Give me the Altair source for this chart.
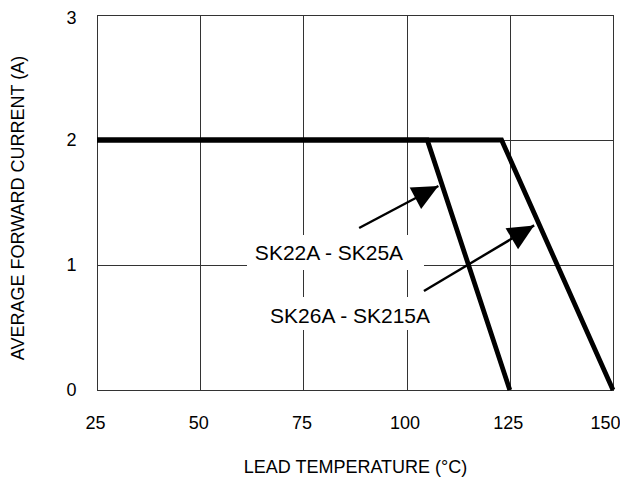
import math
import altair as alt
import pandas as pd

# ---- data ----
series_names = ["SK22A - SK25A", "SK26A - SK215A"]
s1_temp = [25, 105, 125]
s1_curr = [2, 2, 0]
s2_temp = [25, 123, 150]
s2_curr = [2, 2, 0]

label_text = ["SK22A - SK25A", "SK26A - SK215A"]
label_temp = [81.2, 86.3]
label_curr = [1.10, 0.596]

arrow_start_temp = [88.5, 104.2]
arrow_start_curr = [1.296, 0.792]
arrow_tip_temp = [107.7, 130.9]
arrow_tip_curr = [1.632, 1.317]

x_ticks = [25, 50, 75, 100, 125, 150]
y_ticks = [0, 1, 2, 3]

# ---- layout ----
W, H = 516, 375
FONT = "Liberation Sans"
xs = alt.Scale(domain=[25, 150], nice=False, zero=False)
ys = alt.Scale(domain=[0, 3], nice=False)

x_axis = alt.Axis(values=x_ticks, format="d", grid=True, gridColor="#333", gridWidth=1,
                  domain=False, ticks=False, tickSize=0, labelFlush=False,
                  labelOffset={"condition": {"test": "datum.value == 150", "value": -8}, "value": -2},
                  labelFont=FONT, labelFontSize=18, labelColor="black",
                  labelBaseline="alphabetic", labelPadding=38,
                  title="LEAD TEMPERATURE (°C)", titleFont=FONT, titleFontSize=18,
                  titleFontWeight="normal", titleColor="black",
                  titleX=258, titleY=82, titleBaseline="alphabetic", titleAlign="center")
y_axis = alt.Axis(values=y_ticks, format="d", grid=True, gridColor="#333", gridWidth=1,
                  domain=False, ticks=False, tickSize=0, labelFlush=False,
                  labelOffset={"condition": {"test": "datum.value == 3", "value": 3}, "value": 0},
                  labelFont=FONT, labelFontSize=18, labelColor="black",
                  labelBaseline="middle", labelPadding=21,
                  title="AVERAGE FORWARD CURRENT (A)", titleFont=FONT, titleFontSize=18,
                  titleFontWeight="normal", titleColor="black",
                  titleX=-74, titleY=192.5, titleBaseline="alphabetic", titleAlign="center",
                  titleAngle=270)

curves = pd.DataFrame({
    "temp": s1_temp + s2_temp,
    "curr": s1_curr + s2_curr,
    "series": [series_names[0]] * len(s1_temp) + [series_names[1]] * len(s2_temp),
    "order": list(range(len(s1_temp))) + list(range(len(s2_temp))),
})
labels = pd.DataFrame({"text": label_text, "temp": label_temp, "curr": label_curr})

base_grid = alt.Chart(labels).mark_point(opacity=0).encode(
    x=alt.X("temp:Q", scale=xs, axis=x_axis),
    y=alt.Y("curr:Q", scale=ys, axis=y_axis),
)

layers = [base_grid]

# white boxes behind labels (hide grid lines)
box_paths = ["M-8.2,-1.75H9.5V1.75H-8.2Z", "M-9,-1.85H9V1.45H-9Z"]
for i in range(len(label_text)):
    layers.append(
        alt.Chart(labels.iloc[[i]]).mark_point(
            shape=box_paths[i], size=400, filled=True, fill="white",
            strokeWidth=0, opacity=1
        ).encode(x=alt.X("temp:Q", scale=xs), y=alt.Y("curr:Q", scale=ys))
    )

layers.append(
    alt.Chart(labels).mark_text(font=FONT, fontSize=21, color="black",
                                align="center", baseline="middle", dy=1).encode(
        x=alt.X("temp:Q", scale=xs), y=alt.Y("curr:Q", scale=ys), text="text:N")
)

# arrows
px_per_x = W / (150 - 25)
px_per_y = H / 3
for i in range(len(arrow_start_temp)):
    seg = pd.DataFrame({
        "temp": [arrow_start_temp[i], arrow_tip_temp[i]],
        "curr": [arrow_start_curr[i], arrow_tip_curr[i]],
    })
    layers.append(
        alt.Chart(seg).mark_line(color="black", strokeWidth=2.4).encode(
            x=alt.X("temp:Q", scale=xs), y=alt.Y("curr:Q", scale=ys))
    )
    dx = (arrow_tip_temp[i] - arrow_start_temp[i]) * px_per_x
    dy = (arrow_tip_curr[i] - arrow_start_curr[i]) * px_per_y
    ang = math.degrees(math.atan2(dx, dy)) % 360
    tip = pd.DataFrame({"temp": [arrow_tip_temp[i]], "curr": [arrow_tip_curr[i]]})
    layers.append(
        alt.Chart(tip).mark_point(shape="M0,0L-0.47,1L0.47,1Z", size=2704,
                                  filled=True, fill="black", strokeWidth=0,
                                  opacity=1, angle=ang).encode(
            x=alt.X("temp:Q", scale=xs), y=alt.Y("curr:Q", scale=ys))
    )

layers.append(
    alt.Chart(curves).mark_line(color="black", strokeWidth=4.8, strokeJoin="miter").encode(
        x=alt.X("temp:Q", scale=xs), y=alt.Y("curr:Q", scale=ys),
        detail="series:N", order="order:Q")
)

chart = alt.layer(*layers).properties(
    width=W, height=H,
    autosize=alt.AutoSizeParams(type="none"),
    padding={"left": 89, "top": 7, "right": 7, "bottom": 90},
    background="white",
).configure_view(stroke="black", strokeWidth=1)

chart.save("out.html", embed_options={"renderer": "svg", "actions": False})
